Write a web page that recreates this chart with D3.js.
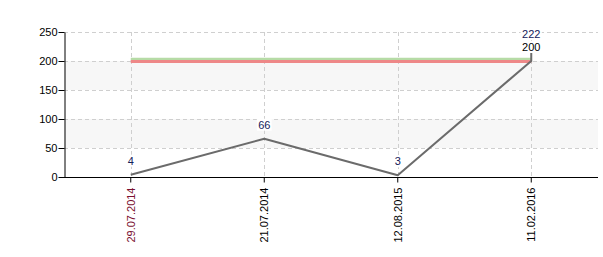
<!DOCTYPE html>
<html>
<head>
<meta charset="utf-8">
<script src="https://cdn.jsdelivr.net/npm/d3@7/dist/d3.min.js"></script>
<style>
  body { margin: 0; background: #fff; }
  svg { display: block; font-family: "Liberation Sans", Arial, sans-serif; }
</style>
</head>
<body>
<svg id="chart" width="603" height="257"></svg>
<script>
const categories = ['29.07.2014', '21.07.2014', '12.08.2015', '11.02.2016'];
const pointCats  = ['29.07.2014', '21.07.2014', '12.08.2015', '11.02.2016', '11.02.2016'];
const values     = [4, 66, 3, 200, 222];
const redLevel   = [199, 199, 199, 199];
const greenLevel = [203, 203, 203, 203];
const yTicks     = [0, 50, 100, 150, 200, 250];
const stripes    = [[50, 100], [150, 200]];

const svg = d3.select('#chart');
const plotL = 64, plotR = 598, plotT = 32, plotB = 177;

const x = d3.scaleBand().domain(categories).range([plotL, plotR]);
const cx = c => x(c) + x.bandwidth() / 2;
const y = d3.scaleLinear().domain([0, 250]).range([plotB, plotT]);

// stripes
svg.selectAll('.stripe').data(stripes).enter().append('rect')
    .attr('x', plotL).attr('width', plotR - plotL)
    .attr('y', d => y(d[1])).attr('height', d => y(d[0]) - y(d[1]))
    .attr('fill', '#f7f7f7');

// grid
svg.append('g').selectAll('line').data(yTicks.filter(t => t > 0)).enter().append('line')
    .attr('x1', plotL).attr('x2', plotR)
    .attr('y1', d => y(d) + 0.5).attr('y2', d => y(d) + 0.5)
    .attr('stroke', '#cfcfcf').attr('stroke-dasharray', '4,3');
svg.append('g').selectAll('line').data(categories).enter().append('line')
    .attr('x1', d => Math.round(cx(d)) + 0.5).attr('x2', d => Math.round(cx(d)) + 0.5)
    .attr('y1', plotT).attr('y2', plotB)
    .attr('stroke', '#cfcfcf').attr('stroke-dasharray', '4,3');

// level lines
const lvl = d3.line().x((d, i) => cx(categories[i])).y(d => y(d));
svg.append('path').datum(greenLevel).attr('d', lvl)
    .attr('fill', 'none').attr('stroke', '#b6dba6').attr('stroke-width', 3);
svg.append('path').datum(redLevel).attr('d', lvl)
    .attr('fill', 'none').attr('stroke', '#ee8888').attr('stroke-width', 3);

// main series
const line = d3.line().x((d, i) => cx(pointCats[i])).y(d => y(d));
svg.append('path').datum(values).attr('d', line)
    .attr('fill', 'none').attr('stroke', '#6b6b6b').attr('stroke-width', 2)
    .attr('stroke-linejoin', 'round');

// point labels
const labels = svg.append('g').selectAll('g').data(values).enter().append('g')
    .attr('transform', (d, i) => `translate(${cx(pointCats[i])},${y(d) - 14})`);
labels.append('rect')
    .attr('x', d => -String(d).length * 3.2 - 1).attr('width', d => String(d).length * 6.4 + 2)
    .attr('y', -6).attr('height', 12).attr('fill', '#fff');
labels.append('text')
    .attr('text-anchor', 'middle').attr('dy', '0.35em')
    .attr('font-size', 11)
    .attr('fill', d => d === 200 ? '#000' : '#14215a')
    .text(d => d);

// axes
const yAxis = svg.append('g')
    .attr('transform', `translate(${plotL + 0.5},0)`)
    .call(d3.axisLeft(y).tickValues(yTicks).tickSize(6).tickSizeOuter(0));
yAxis.select('.domain').attr('stroke', '#000');
yAxis.selectAll('text').attr('font-size', 11).attr('font-family', '"Liberation Sans", Arial, sans-serif')
    .attr('x', -7).attr('fill', '#000');

const xAxis = svg.append('g')
    .attr('transform', `translate(0,${plotB + 0.5})`)
    .call(d3.axisBottom(x).tickSize(5).tickSizeOuter(0));
xAxis.select('.domain').attr('d', `M${plotL},0H${plotR}`).attr('stroke', '#000');
xAxis.selectAll('text')
    .attr('font-size', 11).attr('font-family', '"Liberation Sans", Arial, sans-serif')
    .attr('transform', 'rotate(-90)')
    .attr('text-anchor', 'end')
    .attr('x', -10).attr('y', 0).attr('dy', '0.35em')
    .attr('fill', (d, i) => i === 0 ? '#7a1030' : '#000');
</script>
</body>
</html>
